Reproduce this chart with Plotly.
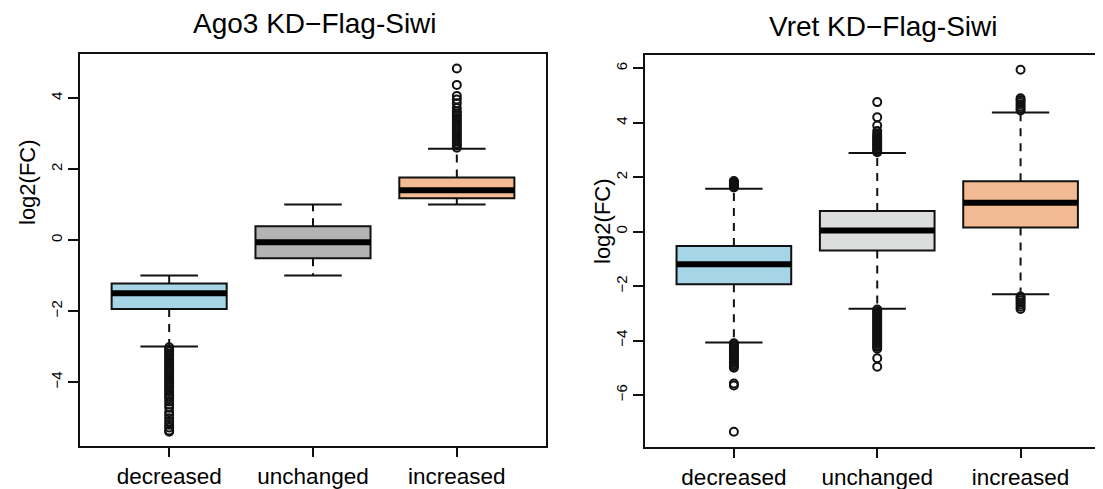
import plotly.graph_objects as go

# The page body adds an 8px margin; the figure is sized so that it fills the window.
OFF = 8
FW, FH = 1103 - OFF, 489 - OFF

categories = ["decreased", "unchanged", "increased"]
cat_pos = [1, 2, 3]

# Ago3 KD panel
ago3_q1 = [-1.94, -0.51, 1.18]
ago3_median = [-1.50, -0.06, 1.40]
ago3_q3 = [-1.22, 0.39, 1.76]
ago3_lower = [-3.00, -1.00, 1.00]
ago3_upper = [-1.00, 1.00, 2.57]
ago3_out_decreased = [-3.02, -3.08, -3.14, -3.20, -3.26, -3.32, -3.38, -3.44, -3.50, -3.56,
                      -3.62, -3.68, -3.74, -3.80, -3.86, -3.92, -3.98, -4.04, -4.10, -4.16,
                      -4.22, -4.28, -4.34, -4.40, -4.46, -4.55, -4.63, -4.72, -4.85, -4.93,
                      -5.02, -5.12, -5.20, -5.28, -5.36, -5.40]
ago3_out_unchanged = []
ago3_out_increased = [2.60, 2.66, 2.72, 2.78, 2.84, 2.90, 2.96, 3.02, 3.08, 3.14, 3.20, 3.26,
                      3.32, 3.38, 3.44, 3.50, 3.56, 3.62, 3.72, 3.85, 3.96, 4.06, 4.37, 4.83]

# Vret KD panel
vret_q1 = [-1.93, -0.69, 0.15]
vret_median = [-1.20, 0.04, 1.06]
vret_q3 = [-0.53, 0.76, 1.85]
vret_lower = [-4.07, -2.83, -2.30]
vret_upper = [1.58, 2.89, 4.38]
vret_out_decreased = [1.62, 1.66, 1.70, 1.74, 1.78, 1.82, 1.86,
                      -4.10, -4.16, -4.22, -4.28, -4.34, -4.40, -4.46, -4.52, -4.58, -4.64,
                      -4.70, -4.76, -4.82, -4.88, -4.94, -5.00, -5.58, -5.65, -7.35]
vret_out_unchanged = [2.92, 2.98, 3.04, 3.10, 3.16, 3.22, 3.28, 3.34, 3.40, 3.46, 3.52, 3.60,
                      3.70, 3.90, 4.20, 4.76,
                      -2.86, -2.92, -2.98, -3.04, -3.10, -3.16, -3.22, -3.28, -3.34, -3.40,
                      -3.46, -3.52, -3.58, -3.64, -3.70, -3.76, -3.82, -3.88, -3.94, -4.00,
                      -4.06, -4.12, -4.18, -4.24, -4.30, -4.65, -4.96]
vret_out_increased = [4.45, 4.52, 4.60, 4.68, 4.76, 4.84, 4.90, 5.95,
                      -2.38, -2.45, -2.52, -2.60, -2.68, -2.76, -2.84]

ago3_colors = ["#a6d5e8", "#b3b3b3", "#f2bb93"]
vret_colors = ["#a6d5e8", "#dcdedd", "#f2bb93"]

titles = ["Ago3 KD\u2212Flag-Siwi", "Vret KD\u2212Flag-Siwi"]
y_title = "log2(FC)"

FONT = "Liberation Sans, Arial, Helvetica, sans-serif"
BOX_W = 0.8
CAP_W = 0.4
INK = "#111111"


def px(x):
    return (x - OFF) / FW


def py(y):
    return 1 - (y - OFF) / FH


fig = go.Figure()


def add_panel(xa, ya, q1, med, q3, lo, hi, outs, colors):
    xref = "x" if xa == 1 else f"x{xa}"
    yref = "y" if ya == 1 else f"y{ya}"
    wx, wy, cx, cy, mx, my = [], [], [], [], [], []
    for i, p in enumerate(cat_pos):
        fig.add_trace(go.Box(
            x=[p], q1=[q1[i]], median=[med[i]], q3=[q3[i]],
            lowerfence=[q1[i]], upperfence=[q3[i]],
            width=BOX_W, whiskerwidth=0, fillcolor=colors[i],
            line=dict(color=INK, width=2), boxpoints=False,
            showlegend=False, xaxis=xref, yaxis=yref, hoverinfo="skip"))
        wx += [p, p, None, p, p, None]
        wy += [q3[i], hi[i], None, q1[i], lo[i], None]
        cx += [p - CAP_W / 2, p + CAP_W / 2, None, p - CAP_W / 2, p + CAP_W / 2, None]
        cy += [hi[i], hi[i], None, lo[i], lo[i], None]
        mx += [p - BOX_W / 2, p + BOX_W / 2, None]
        my += [med[i], med[i], None]
    fig.add_trace(go.Scatter(x=wx, y=wy, mode="lines", xaxis=xref, yaxis=yref,
                             line=dict(color=INK, width=2, dash="8px,7px"),
                             showlegend=False, hoverinfo="skip"))
    fig.add_trace(go.Scatter(x=cx, y=cy, mode="lines", xaxis=xref, yaxis=yref,
                             line=dict(color=INK, width=2), showlegend=False, hoverinfo="skip"))
    fig.add_trace(go.Scatter(x=mx, y=my, mode="lines", xaxis=xref, yaxis=yref,
                             line=dict(color="black", width=6), showlegend=False, hoverinfo="skip"))
    for i, p in enumerate(cat_pos):
        if outs[i]:
            fig.add_trace(go.Scatter(
                x=[p] * len(outs[i]), y=outs[i], mode="markers", xaxis=xref, yaxis=yref,
                marker=dict(symbol="circle-open", size=8, color=INK, line=dict(width=2)),
                showlegend=False, hoverinfo="skip"))


add_panel(1, 1, ago3_q1, ago3_median, ago3_q3, ago3_lower, ago3_upper,
          [ago3_out_decreased, ago3_out_unchanged, ago3_out_increased], ago3_colors)
add_panel(2, 2, vret_q1, vret_median, vret_q3, vret_lower, vret_upper,
          [vret_out_decreased, vret_out_unchanged, vret_out_increased], vret_colors)

xcommon = dict(tickmode="array", tickvals=cat_pos, ticktext=categories,
               ticks="outside", ticklen=9, tickwidth=2, tickcolor=INK,
               showline=True, linewidth=2, linecolor=INK, mirror=True,
               showgrid=False, zeroline=False,
               tickfont=dict(family=FONT, size=22.5, color="black"))
ycommon = dict(ticks="outside", ticklen=10, tickwidth=2, tickcolor=INK,
               showline=True, linewidth=2, linecolor=INK,
               showgrid=False, zeroline=False, tickangle=-90,
               tickfont=dict(family=FONT, size=15, color="black"))

fig.update_layout(
    width=FW, height=FH,
    margin=dict(l=0, r=0, t=0, b=0, autoexpand=False),
    paper_bgcolor="white", plot_bgcolor="white",
    showlegend=False,
    xaxis=dict(domain=[px(80), px(546)], range=[0.38, 3.62], anchor="y", **xcommon),
    yaxis=dict(domain=[py(446), py(54)], range=[-5.80, 5.24], anchor="x",
               tickvals=[-4, -2, 0, 2, 4], mirror=True, **ycommon),
    xaxis2=dict(domain=[px(645), 1.0], range=[0.38, 3.575], anchor="y2", **xcommon),
    yaxis2=dict(domain=[py(446.7), py(55)], range=[-7.90, 6.49], anchor="x2",
                tickvals=[-6, -4, -2, 0, 2, 4, 6], mirror=False, **ycommon),
    annotations=[
        dict(text=titles[0], x=px(315), y=py(23), xref="paper", yref="paper",
             xanchor="center", yanchor="middle", showarrow=False,
             font=dict(family=FONT, size=28, color="black")),
        dict(text=titles[1], x=px(883), y=py(26), xref="paper", yref="paper",
             xanchor="center", yanchor="middle", showarrow=False,
             font=dict(family=FONT, size=28, color="black")),
        dict(text=y_title, x=px(27), y=py(182), xref="paper", yref="paper",
             xanchor="center", yanchor="middle", showarrow=False, textangle=-90,
             font=dict(family=FONT, size=22, color="black")),
        dict(text=y_title, x=px(603), y=py(221), xref="paper", yref="paper",
             xanchor="center", yanchor="middle", showarrow=False, textangle=-90,
             font=dict(family=FONT, size=22, color="black")),
    ],
)

fig.write_html("out.html")
